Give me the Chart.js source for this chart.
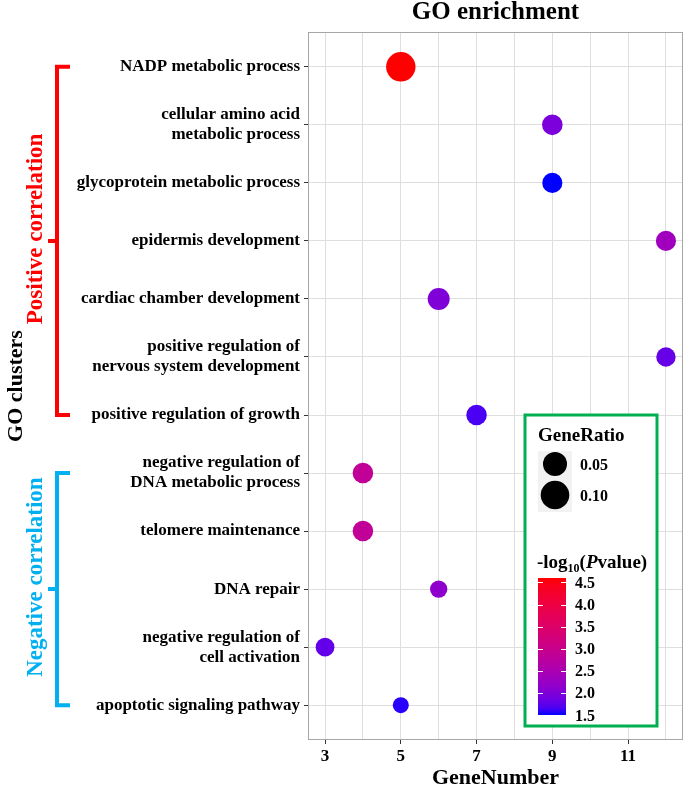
<!DOCTYPE html>
<html>
<head>
<meta charset="utf-8">
<script src="https://cdn.jsdelivr.net/npm/chart.js@4.4.1/dist/chart.umd.min.js"></script>
<style>
html,body{margin:0;padding:0;background:#fff;overflow:hidden;}
#wrap{width:685px;height:786px;}
canvas{display:block;}
</style>
</head>
<body>
<div id="wrap"><canvas id="c" width="685" height="786"></canvas></div>
<script>
// ---- data ----
const categories = [
  "NADP metabolic process",
  "cellular amino acid metabolic process",
  "glycoprotein metabolic process",
  "epidermis development",
  "cardiac chamber development",
  "positive regulation of nervous system development",
  "positive regulation of growth",
  "negative regulation of DNA metabolic process",
  "telomere maintenance",
  "DNA repair",
  "negative regulation of cell activation",
  "apoptotic signaling pathway"
];
const tickLabels = [
  ["NADP metabolic process"],
  ["cellular amino acid", "metabolic process"],
  ["glycoprotein metabolic process"],
  ["epidermis development"],
  ["cardiac chamber development"],
  ["positive regulation of", "nervous system development"],
  ["positive regulation of growth"],
  ["negative regulation of", "DNA metabolic process"],
  ["telomere maintenance"],
  ["DNA repair"],
  ["negative regulation of", "cell activation"],
  ["apoptotic signaling pathway"]
];
const geneNumber = [5, 9, 9, 12, 6, 12, 7, 4, 4, 6, 3, 5];
const negLog10P  = [4.6, 1.95, 1.5, 2.35, 2.0, 1.8, 1.65, 2.85, 2.85, 2.15, 1.78, 1.55];
const geneRatio  = [0.111, 0.027, 0.025, 0.025, 0.035, 0.022, 0.027, 0.027, 0.027, 0.017, 0.020, 0.016];
const xTickLabels = [3, 5, 7, 9, 11];
const sizeLegendValues = [0.05, 0.10];
const colorLegendTicks = [4.5, 4.0, 3.5, 3.0, 2.5, 2.0, 1.5];
const groups = [
  {name: "Positive correlation", color: "#ff0000", from: 0, to: 6},
  {name: "Negative correlation", color: "#00b0f0", from: 7, to: 11}
];

// ---- scales (style) ----
const FONT = '"Liberation Serif", "Times New Roman", serif';
const rMin = Math.min(...geneRatio), rMax = Math.max(...geneRatio);
function sizeScale(v){ return 8 + 6.7*Math.sqrt(Math.max(0,(v-rMin)/(rMax-rMin))); }
const cMin = Math.min(...negLog10P), cMax = Math.max(...negLog10P);
function toLin(c){c/=255;return c<=0.04045?c/12.92:Math.pow((c+0.055)/1.055,2.4);}
function toS(c){c=c<=0.0031308?12.92*c:1.055*Math.pow(c,1/2.4)-0.055;return Math.round(Math.max(0,Math.min(1,c))*255);}
function rgb2lab(r,g,b){const R=toLin(r),G=toLin(g),B=toLin(b);
  const X=(0.4124*R+0.3576*G+0.1805*B)/0.95047,Y=0.2126*R+0.7152*G+0.0722*B,Z=(0.0193*R+0.1192*G+0.9505*B)/1.08883;
  const f=t=>t>0.008856?Math.cbrt(t):7.787*t+16/116;const fx=f(X),fy=f(Y),fz=f(Z);
  return [116*fy-16,500*(fx-fy),200*(fy-fz)];}
function lab2rgb(L,a,b){const fy=(L+16)/116,fx=fy+a/500,fz=fy-b/200;
  const fi=t=>t>0.206893?t*t*t:(t-16/116)/7.787;
  const X=fi(fx)*0.95047,Y=fi(fy),Z=fi(fz)*1.08883;
  const R=3.2406*X-1.5372*Y-0.4986*Z,G=-0.9689*X+1.8758*Y+0.0415*Z,B=0.0557*X-0.2040*Y+1.0570*Z;
  return 'rgb('+toS(R)+','+toS(G)+','+toS(B)+')';}
const labLow = rgb2lab(0,0,255), labHigh = rgb2lab(255,0,0);
function colorScale(v){const t=Math.max(0,Math.min(1,(v-cMin)/(cMax-cMin)));
  return lab2rgb(labLow[0]+(labHigh[0]-labLow[0])*t,labLow[1]+(labHigh[1]-labLow[1])*t,labLow[2]+(labHigh[2]-labLow[2])*t);}

// ---- decorations ----
const decor = {
  id: 'decor',
  afterDraw(chart){
    const ctx = chart.ctx, a = chart.chartArea;
    const ys = chart.scales.y;
    ctx.save();
    // panel border
    ctx.strokeStyle = '#a6a6a6'; ctx.lineWidth = 1;
    ctx.strokeRect(a.left+0.5, a.top+0.5, a.right-a.left-1, a.bottom-a.top-1);
    // title
    ctx.fillStyle = '#000'; ctx.textAlign = 'center'; ctx.textBaseline = 'alphabetic';
    ctx.font = 'bold 25px ' + FONT;
    ctx.fillText('GO enrichment', (a.left+a.right)/2, 19);
    // x title
    ctx.font = 'bold 22px ' + FONT;
    ctx.fillText('GeneNumber', (a.left+a.right)/2, 784);
    // y title
    ctx.save(); ctx.translate(21.5, (a.top+a.bottom)/2); ctx.rotate(-Math.PI/2);
    ctx.fillText('GO clusters', 0, 0); ctx.restore();
    // group brackets
    groups.forEach(g => {
      const y1 = ys.getPixelForValue(g.from), y2 = ys.getPixelForValue(g.to);
      const ym = (y1+y2)/2;
      ctx.strokeStyle = g.color; ctx.lineWidth = 4; ctx.lineJoin = 'miter'; ctx.lineCap = 'butt';
      ctx.beginPath();
      ctx.moveTo(70, y1); ctx.lineTo(57, y1); ctx.lineTo(57, y2); ctx.lineTo(70, y2);
      ctx.moveTo(57, ym); ctx.lineTo(48, ym);
      ctx.stroke();
      ctx.save(); ctx.translate(42, ym-12); ctx.rotate(-Math.PI/2);
      ctx.fillStyle = g.color; ctx.font = 'bold 23px ' + FONT; ctx.textAlign = 'center';
      ctx.fillText(g.name, 0, 0); ctx.restore();
    });
    // legend box
    ctx.fillStyle = '#fff'; ctx.fillRect(525, 415, 132, 311);
    ctx.strokeStyle = '#00b050'; ctx.lineWidth = 3; ctx.strokeRect(525, 415, 132, 311);
    ctx.fillStyle = '#000'; ctx.textAlign = 'left';
    ctx.font = 'bold 19px ' + FONT;
    ctx.fillText('GeneRatio', 538, 441);
    ctx.fillStyle = '#f2f2f2'; ctx.fillRect(538, 451, 34, 61);
    const keyY = [464, 495];
    sizeLegendValues.forEach((v,i) => {
      ctx.fillStyle = '#000'; ctx.beginPath(); ctx.arc(555, keyY[i], sizeScale(v), 0, Math.PI*2); ctx.fill();
      ctx.font = 'bold 16px ' + FONT; ctx.fillText(v.toFixed(2), 580, keyY[i]+5.5);
    });
    // colour legend title: -log10(Pvalue)
    let x = 537; const by = 568;
    const seg = (txt, font, dy) => { ctx.font = font; ctx.fillText(txt, x, by+dy); x += ctx.measureText(txt).width; };
    ctx.fillStyle = '#000';
    seg('-log', 'bold 19px ' + FONT, 0);
    seg('10', 'bold 12px ' + FONT, 4);
    seg('(', 'bold 19px ' + FONT, 0);
    seg('P', 'italic bold 19px ' + FONT, 0);
    seg('value)', 'bold 19px ' + FONT, 0);
    // colour bar
    const barX = 538, barW = 28, barTop = 578, barBot = 715;
    const grad = ctx.createLinearGradient(0, barBot, 0, barTop);
    for (let k=0;k<=20;k++){ grad.addColorStop(k/20, colorScale(cMin + (cMax-cMin)*k/20)); }
    ctx.fillStyle = grad; ctx.fillRect(barX, barTop, barW, barBot-barTop);
    const vy = v => barBot - (v-cMin)/(cMax-cMin)*(barBot-barTop);
    ctx.strokeStyle = '#fff'; ctx.lineWidth = 1;
    ctx.font = 'bold 16px ' + FONT; ctx.fillStyle = '#000';
    colorLegendTicks.forEach(v => {
      const y = Math.round(vy(v)) + 0.5;
      ctx.beginPath(); ctx.moveTo(barX, y); ctx.lineTo(barX+5, y); ctx.moveTo(barX+barW-5, y); ctx.lineTo(barX+barW, y); ctx.stroke();
      ctx.fillText(v.toFixed(1), 575, vy(v)+5.5);
    });
    ctx.restore();
  }
};

const xGrid = []; for (let v = 3; v <= 12; v++) xGrid.push(v);

new Chart(document.getElementById('c'), {
  type: 'bubble',
  data: {
    datasets: [{
      data: categories.map((c,i) => ({x: geneNumber[i], y: i, r: sizeScale(geneRatio[i])})),
      backgroundColor: ctx => colorScale(negLog10P[ctx.dataIndex]),
      borderWidth: 0,
      hoverRadius: 0,
      clip: false
    }]
  },
  options: {
    responsive: false,
    animation: false,
    events: [],
    layout: {autoPadding: false, padding: {top: 32, right: 2, left: 0, bottom: 0}},
    plugins: {legend: {display: false}, tooltip: {enabled: false}, title: {display: false}},
    scales: {
      x: {
        type: 'linear', min: 2.55, max: 12.45,
        afterBuildTicks: s => { s.ticks = xGrid.map(v => ({value: v})); },
        afterFit: s => { s.height = 46; },
        border: {display: false},
        grid: {
          color: '#dedede', lineWidth: 1, tickLength: 4,
          tickColor: c => xTickLabels.includes(c.tick && c.tick.value) ? '#333' : 'rgba(0,0,0,0)'
        },
        ticks: {
          autoSkip: false, maxRotation: 0, padding: 2, color: '#000',
          font: {family: FONT, size: 17, weight: 'bold', lineHeight: 1.2},
          callback: v => xTickLabels.includes(v) ? String(v) : ''
        }
      },
      y: {
        type: 'linear', min: -0.6, max: 11.6, reverse: true,
        afterBuildTicks: s => { s.ticks = categories.map((c,i) => ({value: i})); },
        afterFit: s => { s.width = 308; },
        border: {display: false},
        grid: {color: '#dedede', lineWidth: 1, tickLength: 4, tickColor: '#333'},
        ticks: {
          autoSkip: false, padding: 4, color: '#000',
          font: {family: FONT, size: 17, weight: 'bold', lineHeight: 1.18},
          callback: v => tickLabels[v]
        }
      }
    }
  },
  plugins: [decor]
});
</script>
</body>
</html>
